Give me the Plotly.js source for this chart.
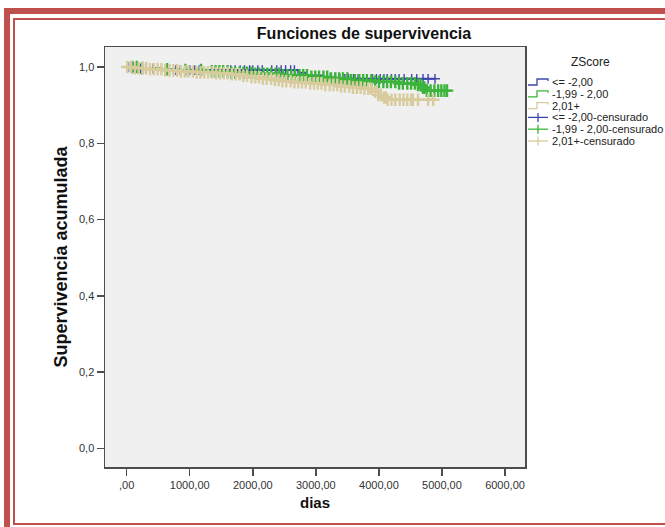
<!DOCTYPE html>
<html>
<head>
<meta charset="utf-8">
<script src="https://cdn.plot.ly/plotly-3.0.1.min.js"></script>
<style>
  html, body { margin: 0; padding: 0; background: #ffffff; overflow: hidden; }
  /* double red frame around the chart */
  #marcoExterior { position: absolute; left: 4px; top: 8px; width: 720px; height: 580px;
                   border: 6px solid #c0504d; box-sizing: border-box; }
  #marcoInterior { position: absolute; left: 13px; top: 18px; width: 720px; height: 507px;
                   border: 2px solid #c0504d; box-sizing: border-box; }
  #grafico { position: absolute; left: 0; top: 0; width: 665px; height: 527px; }
</style>
</head>
<body>
<div id="marcoExterior"></div>
<div id="marcoInterior"></div>
<div id="grafico"></div>
<script>
// ZScore groups
const grupos = ['<= -2,00', '-1,99 - 2,00', '2,01+'];
const gruposCensurados = ['<= -2,00-censurado', '-1,99 - 2,00-censurado', '2,01+-censurado'];

// Kaplan-Meier steps (días, supervivencia acumulada) and end of follow-up
const tiempoBajo = [0, 200, 450, 2720, 2850, 3100, 3350];
const supBajo    = [1.000, 0.996, 0.992, 0.985, 0.978, 0.972, 0.969];
const finBajo    = 4890;

const tiempoMedio = [0, 200, 550, 850, 1200, 1640, 2000, 2430, 2910, 3200, 3540, 3900, 4300, 4600, 4680, 4730];
const supMedio    = [1.000, 0.997, 0.994, 0.992, 0.989, 0.985, 0.982, 0.978, 0.974, 0.970, 0.965, 0.961, 0.957, 0.953, 0.946, 0.938];
const finMedio    = 5080;

const tiempoAlto = [0, 120, 350, 600, 850, 1100, 1400, 1640, 1800, 1950, 2120, 2300, 2430, 2650, 2910, 3150, 3350, 3540, 3760, 3900, 3980, 4050, 4130];
const supAlto    = [1.000, 0.997, 0.994, 0.991, 0.988, 0.986, 0.984, 0.981, 0.977, 0.973, 0.969, 0.966, 0.963, 0.960, 0.957, 0.953, 0.949, 0.946, 0.943, 0.935, 0.927, 0.920, 0.914];
const finAlto    = 4860;

// censored observations (días)
const censBajo = [20, 60, 110, 150, 220, 300, 420, 780, 850, 920, 1000, 1080, 1150, 1650, 1720, 1800, 1870,
  1950, 2000, 2080, 2150, 2300, 2380, 2450, 2520, 2600, 2660, 3230, 3300, 3380, 3460, 3520, 3600, 3670,
  3900, 3960, 4020, 4080, 4130, 4200, 4260, 4320, 4400, 4520, 4600, 4700, 4780, 4890];

const censMedio = [90, 160, 245, 640, 930, 1180, 1350, 1410, 1470, 1530, 1600, 1660, 1720, 1790, 1850, 1910,
  1980, 2040, 2100, 2170, 2230, 2290, 2360, 2420, 2480, 2550, 2610, 2670, 2740, 2800, 2860, 2930, 2990,
  3050, 3120, 3180, 3240, 3310, 3370, 3430, 3500, 3560, 3620, 3690, 3750, 3810, 3880, 3940, 4000, 4070,
  4130, 4190, 4260, 4320, 4380, 4450, 4510, 4570, 4620, 4660, 4700, 4720, 4760, 4820, 4880, 4940, 4990,
  5040, 5080];

const censAlto = [10, 70, 130, 190, 250, 310, 370, 430, 490, 550, 610, 680, 740, 800, 860, 920, 980, 1050,
  1110, 1170, 1230, 1290, 1360, 1420, 1480, 1540, 1600, 1670, 1730, 1790, 1850, 1910, 1980, 2040, 2100,
  2160, 2220, 2290, 2350, 2410, 2470, 2530, 2600, 2660, 2720, 2780, 2840, 2910, 2970, 3030, 3090, 3150,
  3220, 3280, 3340, 3400, 3460, 3530, 3590, 3650, 3710, 3770, 3830, 3880, 3940, 3990, 4030, 4080, 4110,
  4140, 4200, 4260, 4330, 4390, 4450, 4510, 4540, 4620, 4780, 4860];

// axis ticks
const xTickVals = [0, 1000, 2000, 3000, 4000, 5000, 6000];
const xTickText = [',00', '1000,00', '2000,00', '3000,00', '4000,00', '5000,00', '6000,00'];
const yTickVals = [0, 0.2, 0.4, 0.6, 0.8, 1.0];
const yTickText = ['0,0', '0,2', '0,4', '0,6', '0,8', '1,0'];

const colores = ['#3d45ad', '#3cb43c', '#d8cb9d'];
const FUENTE = 'Liberation Sans, Arial, Helvetica, sans-serif';

// survival value of a step curve at time t
function supEn(tiempos, sup, t) {
  let s = sup[0];
  for (let i = 0; i < tiempos.length; i++) { if (tiempos[i] <= t) s = sup[i]; }
  return s;
}

// [times, survival, end, censored, marker size, marker stroke]
const curvas = [
  [tiempoBajo, supBajo, finBajo, censBajo, 7, 1.4],
  [tiempoMedio, supMedio, finMedio, censMedio, 9, 2.4],
  [tiempoAlto, supAlto, finAlto, censAlto, 9, 2.4]
];

const trazas = [];
curvas.forEach((c, i) => {
  trazas.push({
    type: 'scatter', mode: 'lines', name: grupos[i], showlegend: false,
    x: c[0].concat([c[2]]), y: c[1].concat([c[1][c[1].length - 1]]),
    line: { shape: 'hv', color: colores[i], width: 2 }, hoverinfo: 'skip'
  });
});
curvas.forEach((c, i) => {
  trazas.push({
    type: 'scatter', mode: 'markers', name: gruposCensurados[i], showlegend: false,
    x: c[3], y: c[3].map(t => supEn(c[0], c[1], t)),
    marker: { symbol: 'cross-thin', size: c[4], color: colores[i], line: { color: colores[i], width: c[5] } },
    hoverinfo: 'skip'
  });
});

// plot box in page pixels
const L = 105, R = 525, T = 47, B = 467;
const px = x => (x - L) / (R - L);
const py = y => (B - y) / (B - T);

// hand-built legend: step glyphs for the curves, crosses for censored marks
const filas = [82, 93.8, 105.6, 117.4, 129.2, 141];
const etiquetas = grupos.concat(gruposCensurados);
const formas = [];
const anotaciones = [{
  text: 'ZScore', xref: 'paper', yref: 'paper', x: px(590), y: py(62),
  xanchor: 'center', yanchor: 'middle', showarrow: false,
  font: { family: FUENTE, size: 12, color: '#222' }
}];
filas.forEach((fy, k) => {
  const col = colores[k % 3];
  if (k < 3) {
    formas.push({
      type: 'path', xref: 'paper', yref: 'paper', layer: 'above',
      path: `M${px(528)},${py(fy + 3)} L${px(537)},${py(fy + 3)} L${px(537)},${py(fy - 3)} L${px(548)},${py(fy - 3)} L${px(548)},${py(fy - 1)}`,
      line: { color: col, width: 1.3 }
    });
  } else {
    formas.push({ type: 'line', xref: 'paper', yref: 'paper', x0: px(528), x1: px(548), y0: py(fy), y1: py(fy),
      line: { color: col, width: 1.3 } });
    formas.push({ type: 'line', xref: 'paper', yref: 'paper', x0: px(538), x1: px(538), y0: py(fy - 4.5), y1: py(fy + 4.5),
      line: { color: col, width: 1.3 } });
  }
  anotaciones.push({
    text: etiquetas[k], xref: 'paper', yref: 'paper', x: px(550), y: py(fy),
    xanchor: 'left', yanchor: 'middle', showarrow: false,
    font: { family: FUENTE, size: 11, color: '#222' }
  });
});

const ejeComun = {
  showline: true, mirror: true, linecolor: '#4d4d4d', linewidth: 1.5,
  ticks: 'outside', ticklen: 7, tickwidth: 1.5, tickcolor: '#4d4d4d',
  showgrid: false, zeroline: false, tickmode: 'array',
  tickfont: { family: FUENTE, size: 11, color: '#333' }
};

const layout = {
  width: 665, height: 527,
  margin: { l: L, r: 665 - R, t: T, b: 527 - B, pad: 0 },
  paper_bgcolor: 'rgba(0,0,0,0)', plot_bgcolor: '#f0f0f0',
  font: { family: FUENTE, color: '#222' },
  showlegend: false,
  title: {
    text: 'Funciones de supervivencia', xref: 'paper', x: px(364), xanchor: 'center',
    yref: 'container', y: 1 - 33 / 527, yanchor: 'middle',
    font: { family: FUENTE, size: 16, weight: 'bold', color: '#111' }
  },
  xaxis: Object.assign({}, ejeComun, {
    range: [-344, 6317], tickvals: xTickVals, ticktext: xTickText,
    title: { text: 'dias', standoff: 8, font: { family: FUENTE, size: 15, weight: 'bold', color: '#111' } }
  }),
  yaxis: Object.assign({}, ejeComun, {
    range: [-0.0485, 1.0524], tickvals: yTickVals, ticktext: yTickText,
    title: { text: 'Supervivencia acumulada', standoff: 6, font: { family: FUENTE, size: 18, weight: 'bold', color: '#111' } }
  }),
  shapes: formas,
  annotations: anotaciones
};

Plotly.newPlot('grafico', trazas, layout, { staticPlot: true, displayModeBar: false });
</script>
</body>
</html>
